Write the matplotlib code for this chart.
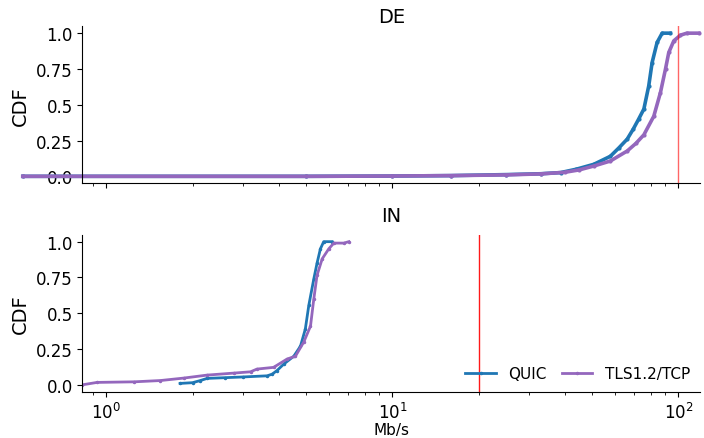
import numpy as np
import matplotlib.pyplot as plt

# CDF samples (Mb/s, cumulative fraction)
de_quic_x = [0.51, 5.0, 10.0, 16.0, 25.0, 33.0, 38.7, 44.0, 50.6, 57.8, 62.0, 66.2, 69.5, 72.6, 75.7, 78.7, 80.9, 84.2, 87.7, 93.7]
de_quic_y = [0.0, 0.0, 0.002, 0.005, 0.012, 0.018, 0.026, 0.05, 0.084, 0.14, 0.2, 0.26, 0.33, 0.40, 0.47, 0.63, 0.795, 0.935, 1.0, 1.0]
de_tls_x = [0.51, 5.0, 10.0, 16.0, 25.0, 33.0, 40.0, 45.0, 50.6, 57.8, 66.2, 71.0, 75.7, 82.0, 86.5, 90.1, 92.5, 96.3, 101.6, 107.0, 117.8]
de_tls_y = [0.0, 0.0, 0.002, 0.005, 0.01, 0.017, 0.028, 0.045, 0.072, 0.107, 0.177, 0.23, 0.29, 0.42, 0.585, 0.75, 0.865, 0.946, 0.986, 1.0, 1.0]

in_quic_x = [1.81, 2.0, 2.13, 2.25, 2.6, 3.0, 3.65, 3.8, 3.95, 4.17, 4.52, 4.77, 4.96, 5.10, 5.31, 5.45, 5.60, 5.75, 6.15]
in_quic_y = [0.01, 0.015, 0.03, 0.045, 0.05, 0.055, 0.063, 0.075, 0.1, 0.145, 0.2, 0.27, 0.39, 0.555, 0.74, 0.85, 0.95, 1.0, 1.0]
in_tls_x = [0.823, 0.928, 1.25, 1.545, 1.86, 2.25, 2.79, 3.19, 3.36, 3.84, 4.28, 4.58, 4.90, 5.17, 5.31, 5.45, 5.68, 5.99, 6.24, 6.76, 7.04]
in_tls_y = [0.0, 0.017, 0.021, 0.03, 0.047, 0.068, 0.082, 0.091, 0.11, 0.122, 0.18, 0.2, 0.3, 0.41, 0.6, 0.765, 0.88, 0.95, 0.99, 0.99, 1.0]

limits = {'DE': 100, 'IN': 20}
quic_color = '#1f77b4'
tls_color = '#9467bd'

fig, axes = plt.subplots(2, 1, figsize=(7.04, 4.39), dpi=100, sharex=True)

panels = [('DE', de_quic_x, de_quic_y, de_tls_x, de_tls_y),
          ('IN', in_quic_x, in_quic_y, in_tls_x, in_tls_y)]

for ax, (name, qx, qy, tx, ty) in zip(axes, panels):
    top = name == 'DE'
    lw = 2.6 if top else 2.0
    ms = 4 if top else 3
    ax.plot(qx, qy, color=quic_color, lw=lw, marker='.', ms=ms, label='QUIC', clip_on=not top)
    ax.plot(tx, ty, color=tls_color, lw=lw, marker='.', ms=ms, label='TLS1.2/TCP', clip_on=not top)
    ax.axvline(limits[name], color='red', lw=1, alpha=0.6 if top else 0.9)
    ax.set_xscale('log')
    ax.set_ylim(-0.05, 1.05)
    ax.set_yticks([0.0, 0.25, 0.5, 0.75, 1.0])
    ax.set_yticklabels(['0.0', '0.25', '0.5', '0.75', '1.0'])
    ax.set_title(name, fontsize=14, pad=1 if top else 10)
    ax.set_ylabel('CDF', fontsize=14)
    ax.tick_params(labelsize=12)
    ax.spines['top'].set_visible(False)
    ax.spines['right'].set_visible(False)

axes[1].set_xlim(0.824, 119.4)
axes[1].set_xlabel('Mb/s', fontsize=11, labelpad=0)
axes[1].legend(loc='lower right', ncol=2, frameon=False, fontsize=11,
               columnspacing=1.0, handlelength=2.0, borderaxespad=0.3)

plt.subplots_adjust(left=0.117, right=0.995, top=0.9385, bottom=0.1048, hspace=0.324)
plt.savefig('out.png')
